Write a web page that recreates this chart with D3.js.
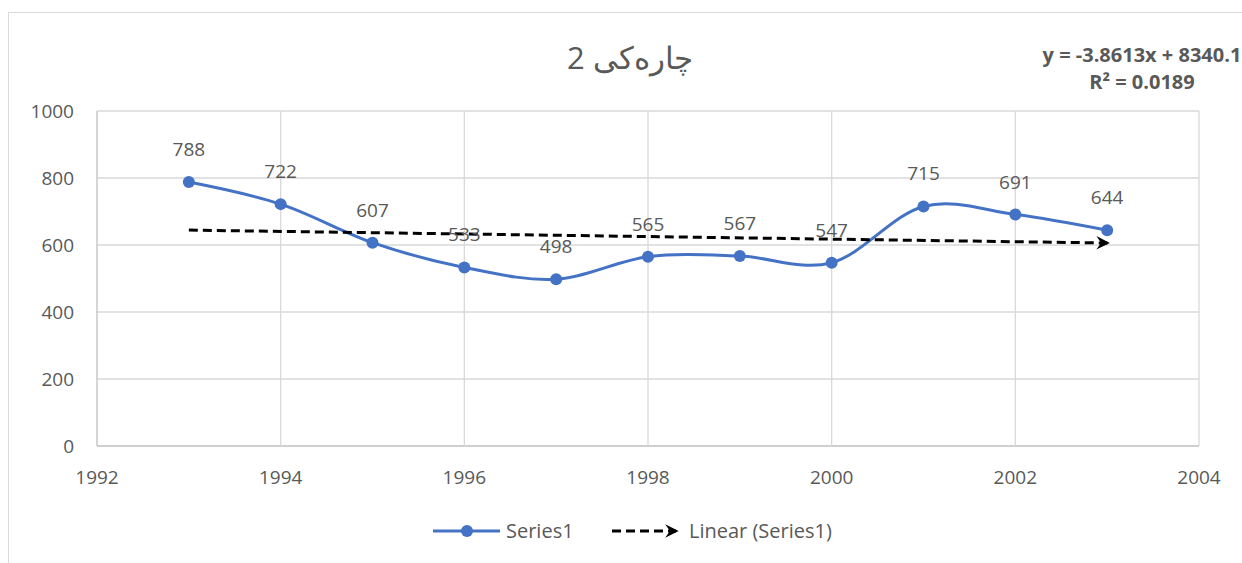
<!DOCTYPE html>
<html>
<head>
<meta charset="utf-8">
<script src="https://cdnjs.cloudflare.com/ajax/libs/d3/7.8.5/d3.min.js"></script>
<style>
body { margin: 0; background: #fff; }
text { font-family: "Open Sans", "Noto Sans", sans-serif; fill: #595959; }
</style>
</head>
<body>
<svg id="chart"></svg>
<script>
var years = [1993, 1994, 1995, 1996, 1997, 1998, 1999, 2000, 2001, 2002, 2003];
var values = [788, 722, 607, 533, 498, 565, 567, 547, 715, 691, 644];
var xTicks = [1992, 1994, 1996, 1998, 2000, 2002, 2004];
var yTicks = [0, 200, 400, 600, 800, 1000];
var title = "چارەکی 2";
var seriesName = "Series1";
var trendName = "Linear (Series1)";
var trendEq = "y = -3.8613x + 8340.1";
var trendR2 = "R² = 0.0189";

var W = 1242, H = 563;
var margin = {top: 111, right: 43, bottom: 117, left: 97};
var width = W - margin.left - margin.right;
var height = H - margin.top - margin.bottom;

var svg = d3.select("#chart").attr("width", W).attr("height", H);

// chart frame
svg.append("rect")
	.attr("x", 8.5).attr("y", 12.5)
	.attr("width", W + 20).attr("height", H + 20)
	.attr("fill", "none").attr("stroke", "#d9d9d9");

var x = d3.scaleLinear().domain([1992, 2004]).range([0, width]);
var y = d3.scaleLinear().domain([0, 1000]).range([height, 0]);

var g = svg.append("g").attr("transform", "translate(" + margin.left + "," + margin.top + ")");

// grid
g.selectAll(".hgrid").data(yTicks).enter().append("line")
	.attr("x1", 0).attr("x2", width)
	.attr("y1", d => y(d)).attr("y2", d => y(d))
	.attr("stroke", d => d === 0 ? "#bfbfbf" : "#d9d9d9").attr("stroke-width", 1.3);
g.selectAll(".vgrid").data(xTicks).enter().append("line")
	.attr("x1", d => x(d)).attr("x2", d => x(d))
	.attr("y1", 0).attr("y2", height)
	.attr("stroke", d => d === 1992 ? "#bfbfbf" : "#d9d9d9").attr("stroke-width", 1.3);

// axis labels
g.selectAll(".ylab").data(yTicks).enter().append("text")
	.attr("x", -23).attr("y", d => y(d)).attr("dy", "0.35em")
	.attr("text-anchor", "end").attr("font-size", 19).text(d => d);
g.selectAll(".xlab").data(xTicks).enter().append("text")
	.attr("x", d => x(d)).attr("y", height + 38)
	.attr("text-anchor", "middle").attr("font-size", 19).text(d => d);

// title
svg.append("text").attr("x", 630).attr("y", 69)
	.attr("text-anchor", "middle").attr("font-size", 31).text(title);

// trendline (least squares)
var mx = d3.mean(years), my = d3.mean(values);
var slope = d3.sum(years, (d, i) => (d - mx) * (values[i] - my)) / d3.sum(years, d => (d - mx) * (d - mx));
var icpt = my - slope * mx;
var x0 = years[0], x1 = years[years.length - 1];

var defs = svg.append("defs");
defs.append("marker").attr("id", "arrow")
	.attr("viewBox", "0 0 10 10").attr("refX", 8).attr("refY", 5)
	.attr("markerWidth", 4.5).attr("markerHeight", 4.5).attr("orient", "auto")
	.append("path").attr("d", "M0,0 L10,5 L0,10 L3.5,5 Z").attr("fill", "#000");

var line = d3.line().x(d => x(d[0])).y(d => y(d[1])).curve(d3.curveCatmullRom.alpha(0));
var pts = years.map((d, i) => [d, values[i]]);

g.append("path").datum(pts).attr("d", line)
	.attr("fill", "none").attr("stroke", "#4472C4").attr("stroke-width", 3);

g.append("line")
	.attr("x1", x(x0)).attr("y1", y(slope * x0 + icpt))
	.attr("x2", x(x1)).attr("y2", y(slope * x1 + icpt))
	.attr("stroke", "#000").attr("stroke-width", 3)
	.attr("stroke-dasharray", "9,5").attr("marker-end", "url(#arrow)");

g.selectAll(".dot").data(pts).enter().append("circle")
	.attr("cx", d => x(d[0])).attr("cy", d => y(d[1])).attr("r", 6)
	.attr("fill", "#4472C4");

g.selectAll(".dlab").data(pts).enter().append("text")
	.attr("x", d => x(d[0])).attr("y", d => y(d[1]) - 26)
	.attr("text-anchor", "middle").attr("font-size", 19).text(d => d[1]);

// equation
svg.append("text").attr("x", 1142).attr("y", 62).attr("text-anchor", "middle")
	.attr("font-size", 20).attr("font-weight", "bold").text(trendEq);
svg.append("text").attr("x", 1142).attr("y", 89).attr("text-anchor", "middle")
	.attr("font-size", 20).attr("font-weight", "bold").text(trendR2);

// legend
var lg = svg.append("g").attr("transform", "translate(0,531)");
lg.append("line").attr("x1", 433).attr("x2", 500).attr("stroke", "#4472C4").attr("stroke-width", 3);
lg.append("circle").attr("cx", 467).attr("r", 6).attr("fill", "#4472C4");
lg.append("text").attr("x", 506).attr("dy", "0.35em").attr("font-size", 20).text(seriesName);
lg.append("line").attr("x1", 612).attr("x2", 676).attr("stroke", "#000").attr("stroke-width", 3)
	.attr("stroke-dasharray", "9,5").attr("marker-end", "url(#arrow)");
lg.append("text").attr("x", 689).attr("dy", "0.35em").attr("font-size", 20).text(trendName);
</script>
</body>
</html>
